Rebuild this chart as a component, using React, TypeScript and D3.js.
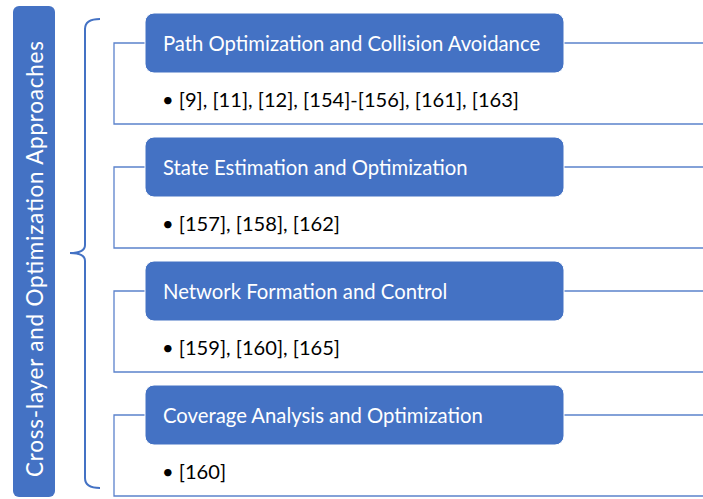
import React from "react";
import * as d3 from "d3";

const rootTitle = "Cross-layer and Optimization Approaches";
const categories = [
  "Path Optimization and Collision Avoidance",
  "State Estimation and Optimization",
  "Network Formation and Control",
  "Coverage Analysis and Optimization",
];
const references = [
  "[9], [11], [12], [154]-[156], [161], [163]",
  "[157], [158], [162]",
  "[159], [160], [165]",
  "[160]",
];

const W = 703;
const H = 499;
const BLUE = "#4472C4";
const FONT = "Lato, 'Open Sans', sans-serif";

export default function App() {
  const y = d3
    .scaleBand<number>()
    .domain(categories.map((_, i) => i))
    .range([13, 13 + 124 * categories.length])
    .paddingInner(0);

  const headerH = 60;
  const headerX0 = 145;
  const headerX1 = 564;
  const outlineX = 114;

  const bracketTop = 19;
  const bracketBottom = 488;
  const bracketMid = 253;
  const bx = 85;
  const bracket = d3.path();
  bracket.moveTo(100, bracketTop);
  bracket.quadraticCurveTo(bx, bracketTop, bx, bracketTop + 10);
  bracket.lineTo(bx, bracketMid - 8);
  bracket.quadraticCurveTo(bx, bracketMid, 70, bracketMid);
  bracket.quadraticCurveTo(bx, bracketMid, bx, bracketMid + 8);
  bracket.lineTo(bx, bracketBottom - 10);
  bracket.quadraticCurveTo(bx, bracketBottom, 100, bracketBottom);

  return (
    <svg
      width={W}
      height={H}
      style={{ position: "absolute", left: 0, top: 0, background: "#fff" }}
    >
      <rect x={13} y={6} width={42} height={491} rx={6} fill={BLUE} />
      <text
        transform={`translate(34, 259) rotate(-90)`}
        textAnchor="middle"
        dominantBaseline="central"
        fill="#fff"
        fontFamily={FONT}
        fontSize={22.5}
        textLength={436}
        lengthAdjust="spacing"
      >
        {rootTitle}
      </text>
      <path d={bracket.toString()} fill="none" stroke={BLUE} strokeWidth={2} />
      {categories.map((c, i) => {
        const top = y(i)!;
        const oTop = top + 30;
        const oBot = top + 111;
        return (
          <g key={c}>
            <path
              d={`M${W + 2},${oTop} L${outlineX},${oTop} L${outlineX},${oBot} L${W + 2},${oBot}`}
              fill="none"
              stroke="#5B82CC"
              strokeWidth={1.3}
            />
            <rect
              x={headerX0}
              y={top}
              width={headerX1 - headerX0}
              height={headerH}
              rx={9}
              fill={BLUE}
              stroke="#fff"
              strokeWidth={1}
            />
            <text
              x={163}
              y={top + 30}
              dominantBaseline="central"
              fill="#fff"
              fontFamily={FONT}
              fontSize={20.3}
            >
              {c}
            </text>
            <text
              x={162}
              y={top + 86}
              dominantBaseline="central"
              fill="#000"
              fontFamily={FONT}
              fontSize={20.1}
            >
              {"• " + references[i]}
            </text>
          </g>
        );
      })}
    </svg>
  );
}
